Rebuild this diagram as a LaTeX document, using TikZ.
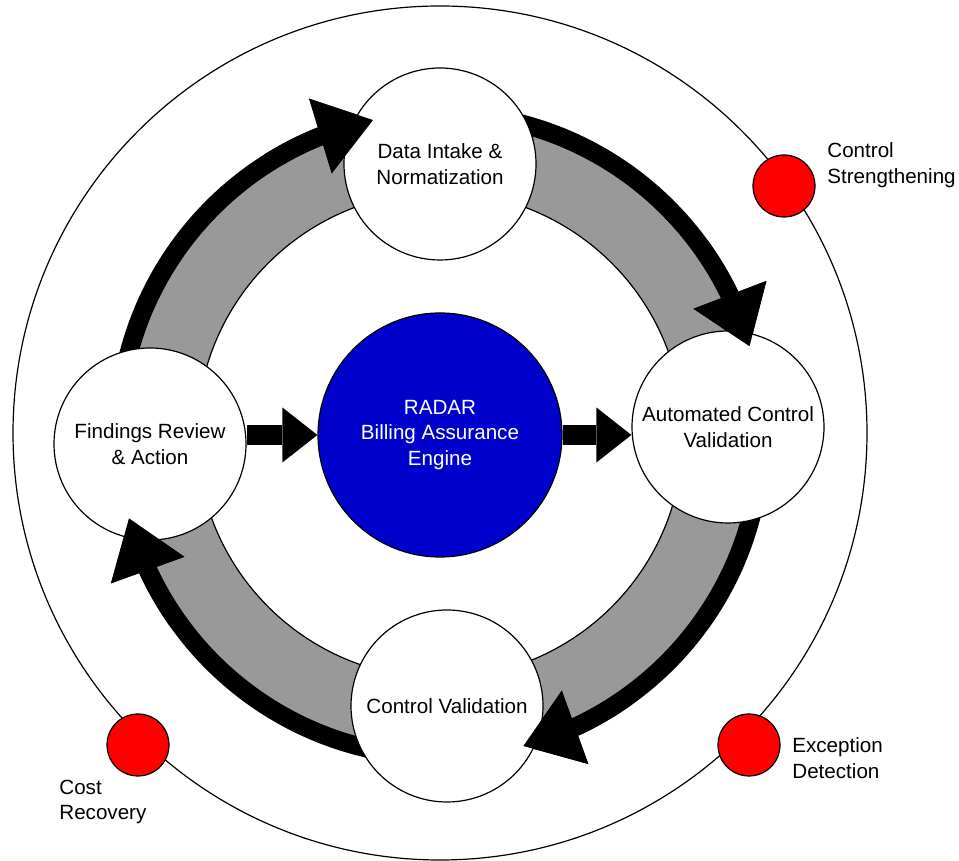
\documentclass[tikz,border=0pt]{standalone}
\usepackage{fontspec}
\setmainfont{Liberation Sans}
\usetikzlibrary{arrows.meta, bending}
\definecolor{radar-blue}{HTML}{0000CC}
\definecolor{ring-gray}{HTML}{999999}
\definecolor{alert-red}{HTML}{FF0000}
\newcommand{\diagfont}{\fontsize{10.3}{12.7}\selectfont}

\begin{document}
\begin{tikzpicture}[x=0.5pt, y=0.5pt,
    stage/.style={circle, draw, line width=0.6pt, fill=white, minimum size=96pt,
                  inner sep=0pt, align=center, font=\diagfont},
    engine/.style={circle, draw, line width=0.6pt, fill=radar-blue, text=white,
                   minimum size=122pt, inner sep=0pt, align=center, font=\diagfont},
    outcome/.style={circle, draw, line width=0.6pt, fill=alert-red,
                    minimum size=31pt, inner sep=0pt},
    outcomelabel/.style={anchor=west, align=left, font=\diagfont, inner sep=0pt},
    cyclearrow/.style={line width=9pt,
                       -{Triangle[width=39pt, length=27.5pt, line width=0pt]}},
    feedarrow/.style={line width=10pt,
                      -{Triangle[width=27.5pt, length=17.5pt, line width=0pt]}}]
    % Diagram: review cycle round the RADAR engine.
    % Coordinates are px of the 959x861 page, y up:
    %   ring centre (440,426), grey band r=243..313, black arrows on r=322
    %   outer boundary circle r=427, outcome dots sit on it
    \useasboundingbox (0,0) rectangle (959,861);
    \coordinate (ring) at (440,426);

    \draw[line width=0.6pt] (440,428) circle[radius=427];
    \draw[line width=0.6pt, fill=ring-gray, even odd rule]
      (ring) circle[radius=313] (ring) circle[radius=243];

    % arrow bodies, under the stage circles
    \foreach \src/\dst in {172/102, 82/16, -8/-75, -96/-165}
      \draw[cyclearrow] ([shift={(\src:322)}]ring)
        arc[start angle=\src, end angle=\dst, radius=322];

    \node[engine] (radar) at (ring) {RADAR\\Billing Assurance\\Engine};
    \node[stage] (intake) at (440,697) {Data Intake \&\\Normatization};
    \node[stage] (automated) at (728,434) {Automated Control\\Validation};
    \node[stage] (validation) at (447,155) {Control Validation};
    \node[stage] (review) at (150,417) {Findings Review\\\& Action};

    % arrow heads again, over the stage circles
    \foreach \dst in {102, 16, -75, -165}
      \draw[cyclearrow] ([shift={(\dst+20:322)}]ring)
        arc[start angle=\dst+20, end angle=\dst, radius=322];

    \draw[feedarrow] (radar.west -| review.east) -- (radar.west);
    \draw[feedarrow] (radar.east) -- (radar.east -| automated.west);

    \node[outcome] (strengthen) at (784,675) {};
    \node[outcome] (exception) at (749,116) {};
    \node[outcome] (recovery) at (138,116) {};
    \node[outcomelabel] at (827,696) {Control\\Strengthening};
    \node[outcomelabel] at (792,103) {Exception\\Detection};
    \node[outcomelabel] at (59,59) {Cost\\Recovery};
\end{tikzpicture}
\end{document}
